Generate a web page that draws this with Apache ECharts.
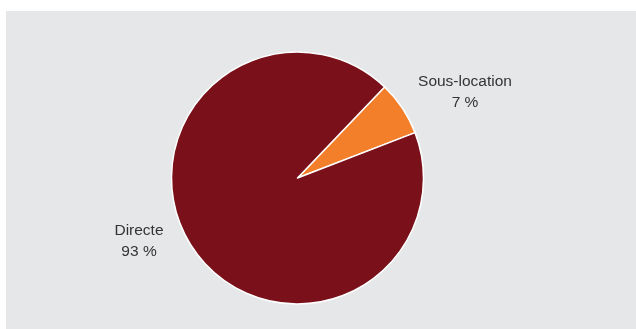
<!DOCTYPE html>
<html>
<head>
<meta charset="utf-8">
<style>
  html, body { margin: 0; padding: 0; background: #ffffff; }
  #chart { width: 636px; height: 329px; }
</style>
<script src="https://cdn.jsdelivr.net/npm/echarts@6/dist/echarts.min.js"></script>
</head>
<body>
<div id="chart"></div>
<script>
// Répartition des surfaces : location directe vs sous-location
const categories = ['Sous-location', 'Directe'];
const shares = [7, 93];
const sliceColors = ['#f47f2b', '#7a111a'];

// label anchor points (centre of each two-line label)
const labelAnchors = [[465, 92], [139, 241]];

const chart = echarts.init(document.getElementById('chart'), null, { renderer: 'canvas' });

chart.setOption({
  backgroundColor: '#ffffff',
  animation: false,
  graphic: [{
    type: 'rect',
    left: 6, top: 11,
    shape: { width: 630, height: 318 },
    style: { fill: '#e6e7e8' },
    silent: true,
    z: -10
  }],
  series: [{
    type: 'pie',
    center: [297.5, 178],
    radius: 126,
    startAngle: 46.3,
    clockwise: true,
    data: categories.map((name, i) => ({
      name: name,
      value: shares[i],
      itemStyle: { color: sliceColors[i] }
    })),
    itemStyle: { borderColor: '#ffffff', borderWidth: 1.5 },
    label: {
      show: true,
      position: 'outside',
      formatter: p => p.name + '\n' + p.value + ' %',
      fontFamily: '"Liberation Sans", Arial, sans-serif',
      fontSize: 15.5,
      lineHeight: 21,
      color: '#333333',
      align: 'center'
    },
    labelLine: { show: false },
    labelLayout: params => ({
      x: labelAnchors[params.dataIndex][0],
      y: labelAnchors[params.dataIndex][1],
      align: 'center',
      verticalAlign: 'middle'
    }),
    emphasis: { disabled: true }
  }]
});
</script>
</body>
</html>
